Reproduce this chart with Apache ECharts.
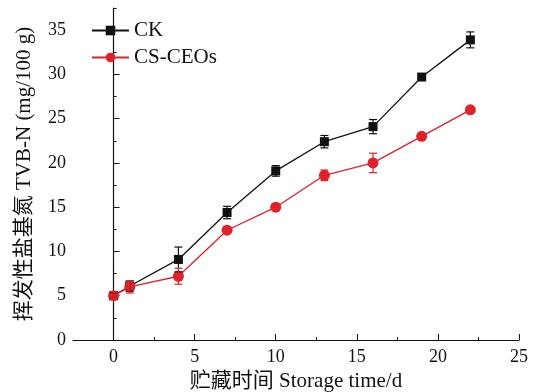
<!DOCTYPE html>
<html><head><meta charset="utf-8">
<script src="https://cdn.jsdelivr.net/npm/echarts@6/dist/echarts.min.js"></script>
<style>html,body{margin:0;padding:0;background:#fff}#c{width:538px;height:392px}</style>
</head><body><div id="c"></div>
<script>
const days = [0, 1, 4, 7, 10, 13, 16, 19, 22];
const ckValues = [5.0, 6.1, 9.1, 14.4, 19.1, 22.4, 24.1, 29.7, 33.9];
const ckErrors = [0.3, 0.6, 1.4, 0.7, 0.6, 0.7, 0.8, 0.2, 0.9];
const ceoValues = [5.0, 6.0, 7.2, 12.4, 15.0, 18.6, 20.0, 23.0, 26.0];
const ceoErrors = [0.3, 0.7, 0.9, 0.3, 0.4, 0.6, 1.1, 0.2, 0.2];
const xMajorTicks = [0, 5, 10, 15, 20, 25];
const xMinorTicks = [2.5, 7.5, 12.5, 17.5, 22.5];
const yMajorTicks = [0, 5, 10, 15, 20, 25, 30, 35];
const yMinorTicks = [2.5, 7.5, 12.5, 17.5, 22.5, 27.5, 32.5, 37.5];

const FONT = "'Liberation Serif','Noto Sans CJK SC',serif";
const BLACK = '#111';
const RED = '#e0222a';

function pts(vals) { return days.map((d, i) => [d, vals[i]]); }
function errs(vals, e) { return days.map((d, i) => [d, vals[i] - e[i], vals[i] + e[i]]); }
function errRender(color) {
  return function (params, api) {
    const x = api.value(0);
    const lo = api.coord([x, api.value(1)]);
    const hi = api.coord([x, api.value(2)]);
    const w = 4;
    const style = { stroke: color, lineWidth: 1.2 };
    return { type: 'group', children: [
      { type: 'line', shape: { x1: lo[0], y1: lo[1], x2: hi[0], y2: hi[1] }, style },
      { type: 'line', shape: { x1: lo[0] - w, y1: lo[1], x2: lo[0] + w, y2: lo[1] }, style },
      { type: 'line', shape: { x1: hi[0] - w, y1: hi[1], x2: hi[0] + w, y2: hi[1] }, style }
    ]};
  };
}

const chart = echarts.init(document.getElementById('c'));
const tickText = { fontFamily: FONT, fontSize: 18, color: BLACK };
const titleText = { fontFamily: FONT, fontSize: 21, color: BLACK };
chart.setOption({
  animation: false,
  backgroundColor: '#fff',
  grid: { left: 73, right: 19, top: 8, bottom: 52, containLabel: false, outerBoundsMode: 'none' },
  legend: {
    orient: 'vertical', left: 91, top: 20, padding: 0, itemWidth: 37, itemHeight: 12, itemGap: 6,
    data: ['CK', 'CS-CEOs'],
    textStyle: { fontFamily: FONT, fontSize: 21, color: BLACK }
  },
  xAxis: [{
    type: 'value', min: -2.5, max: 25, splitLine: { show: false },
    name: '贮藏时间 Storage time/d', nameLocation: 'middle', nameGap: 30,
    nameTextStyle: titleText,
    axisLine: { lineStyle: { color: BLACK, width: 1.2 } },
    axisTick: { inside: true, length: 6, customValues: xMajorTicks, lineStyle: { color: BLACK } },
    axisLabel: { customValues: xMajorTicks, margin: 8, ...tickText }
  }, {
    type: 'value', min: -2.5, max: 25, position: 'bottom', splitLine: { show: false },
    axisLine: { show: false },
    axisTick: { inside: true, length: 3, customValues: xMinorTicks, lineStyle: { color: BLACK } },
    axisLabel: { show: false }
  }],
  yAxis: [{
    type: 'value', min: 0, max: 37.5, splitLine: { show: false },
    name: '挥发性盐基氮 TVB-N (mg/100 g)', nameLocation: 'middle', nameGap: 38,
    nameTextStyle: titleText,
    axisLine: { show: true, lineStyle: { color: BLACK, width: 1.2 } },
    axisTick: { show: true, inside: true, length: 6, customValues: yMajorTicks, lineStyle: { color: BLACK } },
    axisLabel: { customValues: yMajorTicks, margin: 7, ...tickText }
  }, {
    type: 'value', min: 0, max: 37.5, position: 'left', splitLine: { show: false },
    axisLine: { show: false },
    axisTick: { show: true, inside: true, length: 3, customValues: yMinorTicks, lineStyle: { color: BLACK } },
    axisLabel: { show: false }
  }],
  series: [
    { name: 'CK', type: 'line', data: pts(ckValues), symbol: 'rect', symbolSize: 9,
      itemStyle: { color: BLACK }, lineStyle: { color: BLACK, width: 1.3 }, z: 3 },
    { name: 'CS-CEOs', type: 'line', data: pts(ceoValues), symbol: 'circle', symbolSize: 11,
      itemStyle: { color: RED }, lineStyle: { color: RED, width: 1.3 }, z: 3 },
    { type: 'custom', data: errs(ckValues, ckErrors), encode: { x: 0, y: [1, 2] },
      renderItem: errRender(BLACK), z: 4 },
    { type: 'custom', data: errs(ceoValues, ceoErrors), encode: { x: 0, y: [1, 2] },
      renderItem: errRender(RED), z: 4 }
  ]
});
</script></body></html>
